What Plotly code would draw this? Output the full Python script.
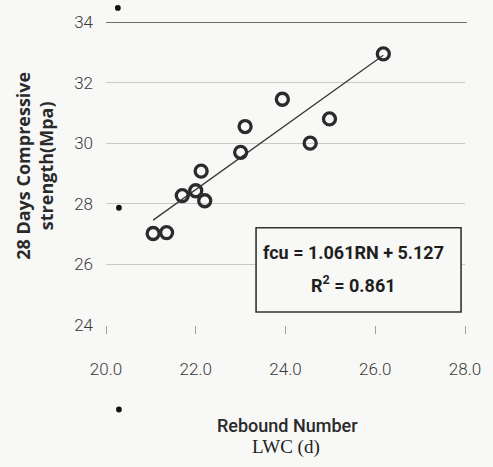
import plotly.graph_objects as go

# Rebound number vs 28-day compressive strength (LWC mix d)
rebound_number = [21.05, 21.35, 21.7, 22.0, 22.2, 22.12, 23.0, 23.1, 23.93, 24.55, 24.98, 26.18]
strength_mpa = [27.02, 27.05, 28.27, 28.43, 28.1, 29.08, 29.7, 30.55, 31.45, 30.0, 30.8, 32.95]

# Linear fit reported on the chart: fcu = slope * RN + intercept
slope = 1.061
intercept = 5.127
r_squared = 0.861

x_ticks = [20, 22, 24, 26, 28]
x_tick_text = ["20.0", "22.0", "24.0", "26.0", "28.0"]
y_ticks = [24, 26, 28, 30, 32, 34]

narrow = "Roboto, Liberation Sans Narrow, sans-serif"
ink = "#2b2b2b"
paper_bg = "#f8f8f6"

fit_x = [min(rebound_number), max(rebound_number)]
fit_y = [slope * v + intercept for v in fit_x]

fig = go.Figure()

fig.add_trace(go.Scatter(
    x=fit_x, y=fit_y, mode="lines",
    line=dict(color="#3a3a3a", width=1.3),
    hoverinfo="skip", showlegend=False,
))

fig.add_trace(go.Scatter(
    x=rebound_number, y=strength_mpa, mode="markers",
    marker=dict(symbol="circle-open", size=12, color=ink, line=dict(width=3.3, color=ink)),
    showlegend=False,
))

fig.update_layout(
    width=493, height=467,
    margin=dict(l=106, r=23, t=20, b=142),
    paper_bgcolor=paper_bg, plot_bgcolor=paper_bg,
    xaxis=dict(
        range=[20, 28], tickvals=x_ticks, ticktext=x_tick_text,
        showgrid=False, zeroline=False, showline=False,
        ticks="outside", ticklen=8, tickcolor="#a0a0a0", tickwidth=1,
        ticklabelstandoff=21,
        tickfont=dict(family=narrow, size=17, color="#3a3a3a", weight=300),
    ),
    yaxis=dict(
        range=[24, 34], tickvals=y_ticks,
        showgrid=True, gridcolor="#c9c9c7", gridwidth=1,
        zeroline=False, showline=False, ticks="",
        ticklabelstandoff=12,
        tickfont=dict(family=narrow, size=17, color="#3a3a3a", weight=300),
    ),
    shapes=[
        # dark top border at 34
        dict(type="line", xref="paper", yref="y", x0=0, x1=1.005, y0=34, y1=34,
             line=dict(color="#3c3c3c", width=1.6)),
        # equation box
        dict(type="rect", xref="paper", yref="paper", x0=0.418, x1=0.989, y0=0.043, y1=0.321,
             line=dict(color="#333333", width=1.6), fillcolor=paper_bg),
        # stray bullet dots
        dict(type="circle", xref="paper", yref="paper", x0=0.025, x1=0.041, y0=1.037, y1=1.056,
             fillcolor="#111111", line=dict(width=0)),
        dict(type="circle", xref="paper", yref="paper", x0=0.028, x1=0.044, y0=0.377, y1=0.397,
             fillcolor="#111111", line=dict(width=0)),
        dict(type="circle", xref="paper", yref="paper", x0=0.028, x1=0.044, y0=-0.289, y1=-0.269,
             fillcolor="#111111", line=dict(width=0)),
    ],
    annotations=[
        dict(text="28 Days Compressive<br>strength(Mpa)", textangle=-90,
             xref="paper", yref="paper", x=-0.198, y=0.525, xanchor="center", yanchor="middle",
             showarrow=False, align="center",
             font=dict(family="Open Sans, sans-serif", size=18, color="#2a2a2a", weight="bold")),
        dict(text="Rebound Number", xref="paper", yref="paper", x=0.505, y=-0.331,
             xanchor="center", yanchor="middle", showarrow=False,
             font=dict(family=narrow, size=18, color="#2a2a2a", weight=500)),
        dict(text="LWC (d)", xref="paper", yref="paper", x=0.5, y=-0.403,
             xanchor="center", yanchor="middle", showarrow=False,
             font=dict(family="Liberation Serif, serif", size=19, color="#222222")),
        dict(text=f"fcu = {slope:.3f}RN + {intercept:.3f}", xref="paper", yref="paper",
             x=0.69, y=0.239, xanchor="center", yanchor="middle", showarrow=False,
             font=dict(family=narrow, size=18, color="#1e1e1e", weight="bold")),
        dict(text=f"R<sup>2</sup> = {r_squared:.3f}", xref="paper", yref="paper",
             x=0.69, y=0.135, xanchor="center", yanchor="middle", showarrow=False,
             font=dict(family=narrow, size=18, color="#1e1e1e", weight="bold")),
    ],
)

fig.write_html("out.html")
